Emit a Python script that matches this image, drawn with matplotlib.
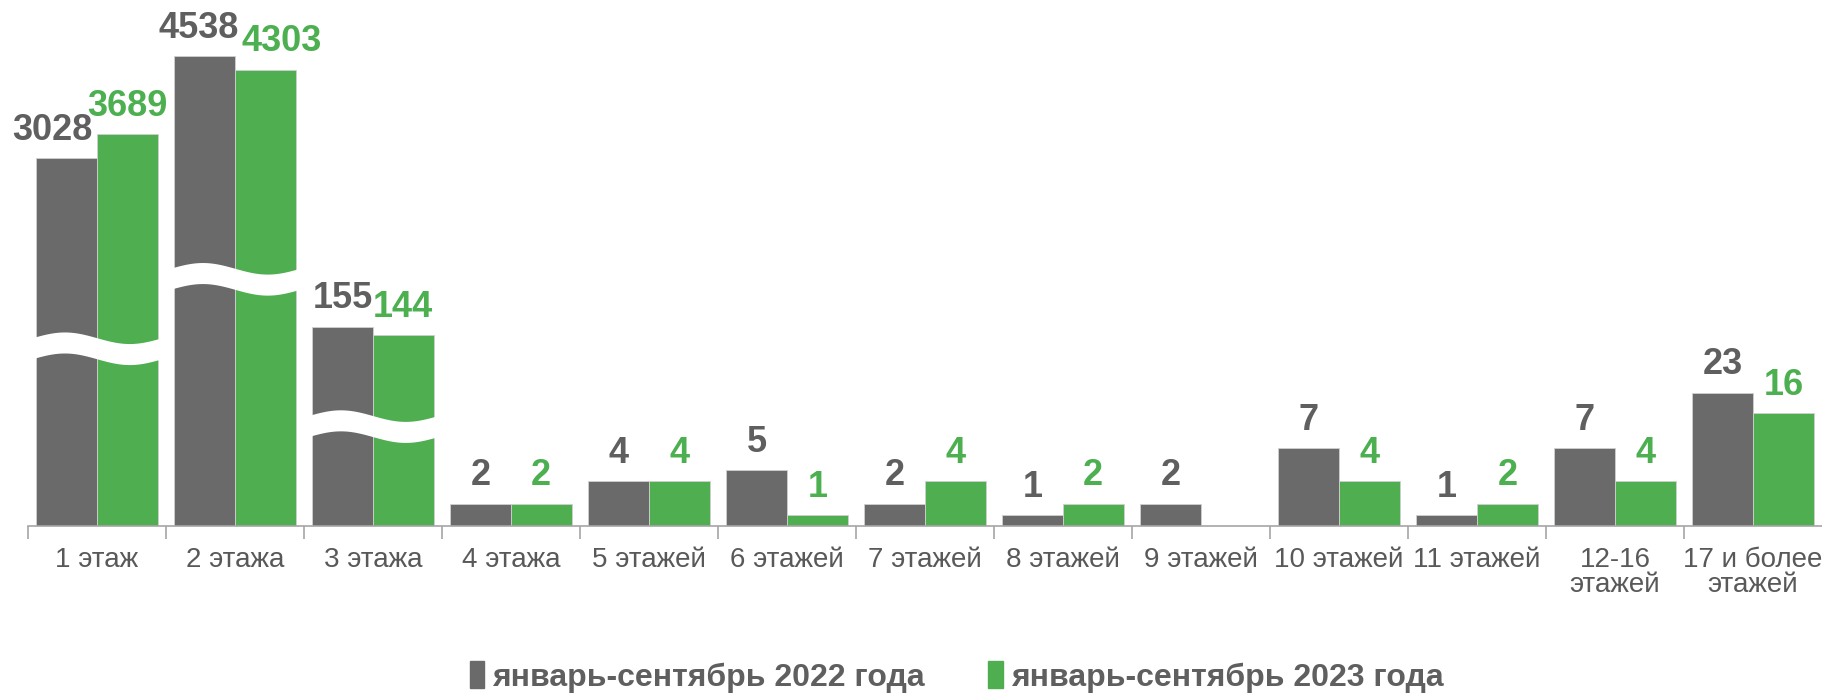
import numpy as np
import matplotlib
matplotlib.use("Agg")
import matplotlib.pyplot as plt
from matplotlib import font_manager
from matplotlib.patches import Patch
from matplotlib.transforms import blended_transform_factory

# narrow Arial-like face if present, else the regular one
names = {f.name for f in font_manager.fontManager.ttflist}
FONT = "Liberation Sans Narrow" if "Liberation Sans Narrow" in names else "Liberation Sans"
plt.rcParams["font.family"] = [FONT, "DejaVu Sans"]

# ── data ────────────────────────────────────────────────────────────────
categories = ["1 этаж", "2 этажа", "3 этажа", "4 этажа", "5 этажей", "6 этажей",
              "7 этажей", "8 этажей", "9 этажей", "10 этажей", "11 этажей",
              "12-16\nэтажей", "17 и более\nэтажей"]
values_2022 = [3028, 4538, 155, 2, 4, 5, 2, 1, 2, 7, 1, 7, 23]
values_2023 = [3689, 4303, 144, 2, 4, 1, 4, 2, 0, 4, 2, 4, 16]
series_names = ["январь-сентябрь 2022 года", "январь-сентябрь 2023 года"]

# compressed ("broken") value axis: value knots -> relative height
scale_values = [0, 8, 25, 140, 160, 3000, 3700, 4300, 5500]
scale_heights = [0, 77, 120, 162, 175, 316, 338, 393, 453]
# where the wavy break cuts each tall group (fraction of axes height)
break_levels = {0: 0.338, 1: 0.47, 2: 0.19}
# sideways nudges (points) so the big numbers don't collide
nudge_2022 = {0: -10, 1: -4}
nudge_2023 = {1: 12}

GRAY = "#6A6A6A"
GREEN = "#4FAE4F"
TEXT_GRAY = "#5F5F5F"
LABEL_GREEN = "#4CAF50"

narrow = FONT.endswith("Narrow")
VAL_SIZE = 31 if narrow else 26
TICK_SIZE = 24 if narrow else 20
LEG_SIZE = 28.5 if narrow else 23


def fwd(v):
    return np.interp(v, scale_values, scale_heights)


def inv(h):
    return np.interp(h, scale_heights, scale_values)


fig = plt.figure(figsize=(18.22, 6.98), dpi=100)
ax = fig.add_axes([0.0153, 0.2463, 0.9847, 0.7537])
ax.set_yscale("function", functions=(fwd, inv))

x = np.arange(len(categories))
w = 0.44
ax.bar(x - w / 2, values_2022, w, color=GRAY, edgecolor="#D0D0D0", linewidth=0.6, zorder=2)
ax.bar(x + w / 2, values_2023, w, color=GREEN, edgecolor="#D0D0D0", linewidth=0.6, zorder=2)

# value labels
for i, (xi, v) in enumerate(zip(x - w / 2, values_2022)):
    if v:
        ax.annotate(str(v), (xi, v), xytext=(nudge_2022.get(i, 0), 20),
                    textcoords="offset points", ha="center", va="center",
                    fontsize=VAL_SIZE, fontweight="bold", color=TEXT_GRAY, zorder=5)
for i, (xi, v) in enumerate(zip(x + w / 2, values_2023)):
    if v:
        ax.annotate(str(v), (xi, v), xytext=(nudge_2023.get(i, 0), 20),
                    textcoords="offset points", ha="center", va="center",
                    fontsize=VAL_SIZE, fontweight="bold", color=LABEL_GREEN, zorder=5)

# wavy white breaks over the tall bars
trans = blended_transform_factory(ax.transData, ax.transAxes)
for i, lvl in break_levels.items():
    xs = np.linspace(i - w - 0.03, i + w + 0.03, 100)
    s = (xs - xs[0]) / (xs[-1] - xs[0])
    wave = 0.011 * np.sin(2 * np.pi * s)
    half = 0.02
    ax.fill_between(xs, lvl - half + wave, lvl + half + wave, color="white",
                    transform=trans, zorder=3, linewidth=0)

ax.set_xlim(-0.5, len(categories) - 0.5)
ax.set_ylim(0, 5500)

for side in ["top", "right", "left"]:
    ax.spines[side].set_visible(False)
ax.spines["bottom"].set_color("#A6A6A6")
ax.spines["bottom"].set_linewidth(1.2)
ax.set_yticks([])

ax.set_xticks(x)
ax.set_xticklabels(categories, fontsize=TICK_SIZE, color="#595959", linespacing=0.95)
ax.tick_params(axis="x", which="major", length=0, pad=15)
ax.set_xticks(np.arange(len(categories)) - 0.5, minor=True)
ax.tick_params(axis="x", which="minor", length=9, color="#A6A6A6", width=1.2)

handles = [Patch(color=GRAY), Patch(color=GREEN)]
fig.legend(handles, series_names, loc="center", bbox_to_anchor=(0.525, 0.03),
           ncol=2, frameon=False, handlelength=0.45, handleheight=0.9,
           handletextpad=0.25, columnspacing=2.0,
           prop={"weight": "bold", "size": LEG_SIZE}, labelcolor=TEXT_GRAY)

fig.savefig("out.png", dpi=100)
